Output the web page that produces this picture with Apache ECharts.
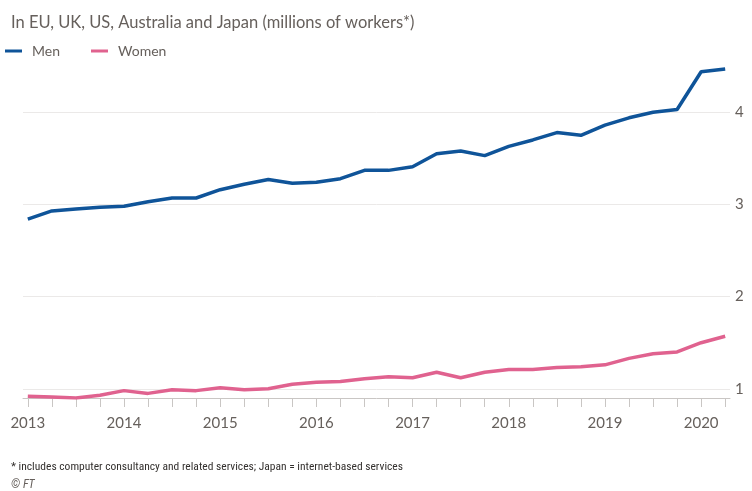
<!DOCTYPE html>
<html><head><meta charset="utf-8">
<script src="https://cdn.jsdelivr.net/npm/echarts@6/dist/echarts.min.js"></script>
<style>html,body{margin:0;padding:0;background:#fff}#c{width:752px;height:491px}</style>
</head><body><div id="c"></div>
<script>
const quarters = ['2013 Q1','2013 Q2','2013 Q3','2013 Q4','2014 Q1','2014 Q2','2014 Q3','2014 Q4','2015 Q1','2015 Q2','2015 Q3','2015 Q4','2016 Q1','2016 Q2','2016 Q3','2016 Q4','2017 Q1','2017 Q2','2017 Q3','2017 Q4','2018 Q1','2018 Q2','2018 Q3','2018 Q4','2019 Q1','2019 Q2','2019 Q3','2019 Q4','2020 Q1','2020 Q2'];
const men = [2.84,2.93,2.95,2.97,2.98,3.03,3.07,3.07,3.16,3.22,3.27,3.23,3.24,3.28,3.37,3.37,3.41,3.55,3.58,3.53,3.63,3.70,3.78,3.75,3.86,3.94,4.00,4.03,4.44,4.47];
const women = [0.92,0.91,0.90,0.93,0.98,0.95,0.99,0.98,1.01,0.99,1.00,1.05,1.07,1.08,1.11,1.13,1.12,1.18,1.12,1.18,1.21,1.21,1.23,1.24,1.26,1.33,1.38,1.40,1.50,1.57];
const yTicks = [1,2,3,4];
const yearTickIdx = [0,4,8,12,16,20,24,28];

const font = "Lato,'Liberation Sans',sans-serif";
const narrow = "'Liberation Sans Narrow','Roboto Condensed',Lato,sans-serif";
const toPairs = arr => arr.map((v,i)=>[i,v]);
const chart = echarts.init(document.getElementById('c'));
chart.setOption({
  backgroundColor:'#fff',
  animation:false,
  title:[
    {text:'In EU, UK, US, Australia and Japan (millions of workers*)',left:6,top:9,textStyle:{fontFamily:font,fontSize:16.5,fontWeight:'normal',color:'#66605c'}},
    {text:'* includes computer consultancy and related services; Japan = internet-based services',left:6,top:456,textStyle:{fontFamily:narrow,fontSize:11.5,fontWeight:'normal',color:'#33302e'}},
    {text:'© FT',left:6,top:474,textStyle:{fontFamily:narrow,fontSize:12,fontWeight:'normal',fontStyle:'italic',color:'#66605c'}}
  ],
  legend:{left:5,top:44,padding:0,icon:'rect',itemWidth:17,itemHeight:3,itemGap:31,
    textStyle:{fontFamily:font,fontSize:14,color:'#66605c',padding:[0,0,0,5]},data:['Men','Women']},
  grid:{left:23,right:22,top:57,bottom:93},
  xAxis:{type:'value',min:-0.2,max:29.2,
    axisLine:{show:true,lineStyle:{color:'#c9c6c4',width:1}},
    axisTick:{show:true,length:9,customValues:quarters.map((q,i)=>i),lineStyle:{color:'#c9c6c4'}},
    axisLabel:{customValues:yearTickIdx,margin:18,fontFamily:font,fontSize:15,color:'#66605c',
      formatter:v=>quarters[Math.round(v)].slice(0,4)},
    splitLine:{show:false}},
  yAxis:{type:'value',position:'right',min:0.9,max:4.6,
    axisLine:{show:false},axisTick:{show:false,customValues:yTicks},
    axisLabel:{customValues:yTicks,margin:5,fontFamily:font,fontSize:15,color:'#66605c'},
    splitLine:{show:true,lineStyle:{color:'#ebe9e8',width:1}}},
  series:[
    {name:'Men',type:'line',data:toPairs(men),symbol:'none',lineStyle:{color:'#0f5499',width:3.5},itemStyle:{color:'#0f5499'}},
    {name:'Women',type:'line',data:toPairs(women),symbol:'none',lineStyle:{color:'#e0628f',width:3.5},itemStyle:{color:'#e0628f'}}
  ]
});
</script></body></html>
